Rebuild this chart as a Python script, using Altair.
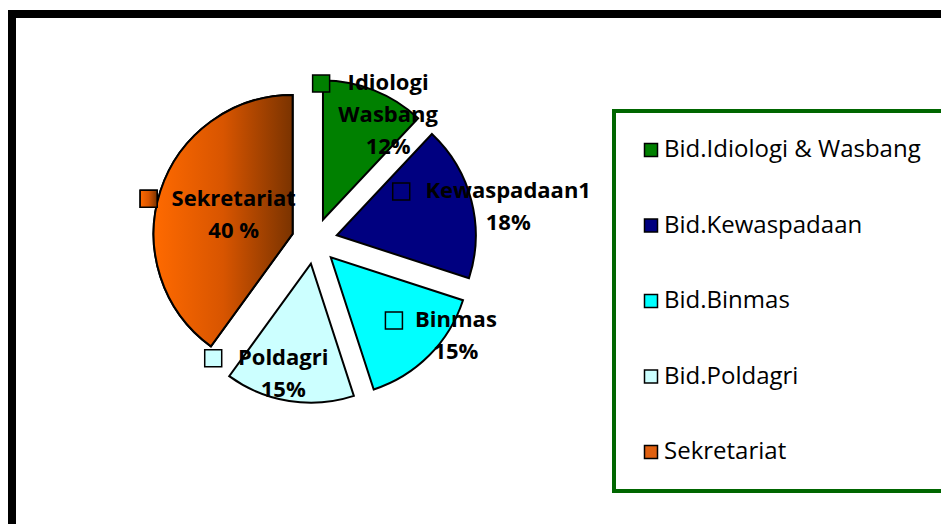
import altair as alt
import pandas as pd

# ---- data ----
categories = ["Bid.Idiologi & Wasbang", "Bid.Kewaspadaan", "Bid.Binmas", "Bid.Poldagri", "Sekretariat"]
values = [12, 18, 15, 15, 40]
slice_names = ["Idiologi\nWasbang", "Kewaspadaan1", "Binmas", "Poldagri", "Sekretariat"]
pct_text = ["12%", "18%", "15%", "15%", "40 %"]

# ---- style ----
colors = ["#008000", "#000080", "#00FFFF", "#CCFFFF", "#E06010"]
orange_grad = alt.Gradient(
    gradient="linear", x1=0, x2=1, y1=0, y2=0,
    stops=[alt.GradientStop(color="#FF6A00", offset=0),
           alt.GradientStop(color="#D85500", offset=0.5),
           alt.GradientStop(color="#7A3300", offset=1)],
)
LABEL_FONT = "Open Sans"

df = pd.DataFrame({
    "category": categories,
    "value": values,
    "order": list(range(len(categories))),
    "label": [n + "\n" + p for n, p in zip(slice_names, pct_text)],
})

CX, CY, R, EXPLODE = 306.5, 233, 139, 23
TAU = 6.283185307179586
LINE_H = 32

base = alt.Chart(df).transform_window(
    cum="sum(value)", sort=[alt.SortField("order", order="ascending")]
).transform_joinaggregate(
    total="sum(value)"
).transform_calculate(
    end="datum.cum",
    start="datum.cum - datum.value",
).transform_calculate(
    mid=f"(datum.start + datum.value / 2) / datum.total * {TAU}",
).transform_calculate(
    cx=f"{CX} + {EXPLODE} * sin(datum.mid)",
    cy=f"{CY} - {EXPLODE} * cos(datum.mid)",
).transform_calculate(
    lx=f"datum.value >= 30 ? datum.cx + 62 * sin(datum.mid) : {CX} + 200 * sin(datum.mid)",
    ly=f"datum.value >= 30 ? datum.cy - 62 * cos(datum.mid) : {CY} - 135 * cos(datum.mid)",
    nlines="length(split(datum.label, '\\n'))",
    first="split(datum.label, '\\n')[0]",
).transform_calculate(
    nwide="length(replace(datum.first, regexp('[iltrIjf ]', 'g'), ''))",
).transform_calculate(
    # estimated width of the first label line (wide vs narrow glyphs)
    firstw="datum.nwide * 14 + (length(datum.first) - datum.nwide) * 8",
).transform_calculate(
    ty=f"datum.ly - (datum.nlines - 1) * {LINE_H / 2}",
    sqx="datum.lx - datum.firstw / 2 - 23",
)

theta = alt.Theta("start:Q", scale=alt.Scale(domain=[0, 100], range=[0, TAU]))
xc = alt.X("cx:Q", scale=None, axis=None)
yc = alt.Y("cy:Q", scale=None, axis=None)

color_scale = alt.Scale(domain=categories, range=colors)

pie = base.mark_arc(outerRadius=R, stroke="black", strokeWidth=2).encode(
    theta=theta, theta2="end:Q", x=xc, y=yc,
    color=alt.Color(
        "category:N", scale=color_scale,
        legend=alt.Legend(
            orient="none", legendX=606, legendY=103, title=None,
            symbolType="square", symbolSize=169, symbolOffset=-2,
            symbolStrokeColor="black", symbolStrokeWidth=1.5,
            labelFont=LABEL_FONT, labelFontSize=24, labelColor="black",
            labelLimit=500, labelOffset=1, rowPadding=51.5, padding=27,
            strokeColor="#006600",
        ),
    ),
    order=alt.Order("order:Q"),
)

pie_grad = base.transform_filter(alt.datum.category == "Sekretariat").mark_arc(
    outerRadius=R, stroke="black", strokeWidth=2, fill=orange_grad
).encode(theta=theta, theta2="end:Q", x=xc, y=yc)

labels = base.mark_text(
    font=LABEL_FONT, fontWeight="bold", fontSize=22, color="black",
    align="center", baseline="middle", lineBreak="\n", lineHeight=LINE_H,
).encode(
    x=alt.X("lx:Q", scale=None, axis=None),
    y=alt.Y("ty:Q", scale=None, axis=None),
    text="label:N",
)

squares = base.mark_square(size=289, stroke="black", strokeWidth=1.5, opacity=1).encode(
    x=alt.X("sqx:Q", scale=None, axis=None),
    y=alt.Y("ty:Q", scale=None, axis=None),
    fill=alt.Fill("category:N", scale=color_scale, legend=None),
)

squares_grad = base.transform_filter(alt.datum.category == "Sekretariat").mark_square(
    size=289, stroke="black", strokeWidth=1.5, fill=orange_grad, opacity=1
).encode(
    x=alt.X("sqx:Q", scale=None, axis=None),
    y=alt.Y("ty:Q", scale=None, axis=None),
)

frame = alt.Chart(pd.DataFrame({"k": [0]})).mark_rect(
    filled=False, stroke="black", strokeWidth=8
).encode(
    x=alt.value(4), x2=alt.value(1400), y=alt.value(6), y2=alt.value(1000)
)

chart = alt.layer(frame, pie, pie_grad, labels, squares, squares_grad).properties(
    width=933, height=516, padding=0, autosize="none"
).configure_view(strokeWidth=0).configure_legend(strokeWidth=4)

chart.save("out.html", embed_options={"renderer": "svg", "actions": False})
